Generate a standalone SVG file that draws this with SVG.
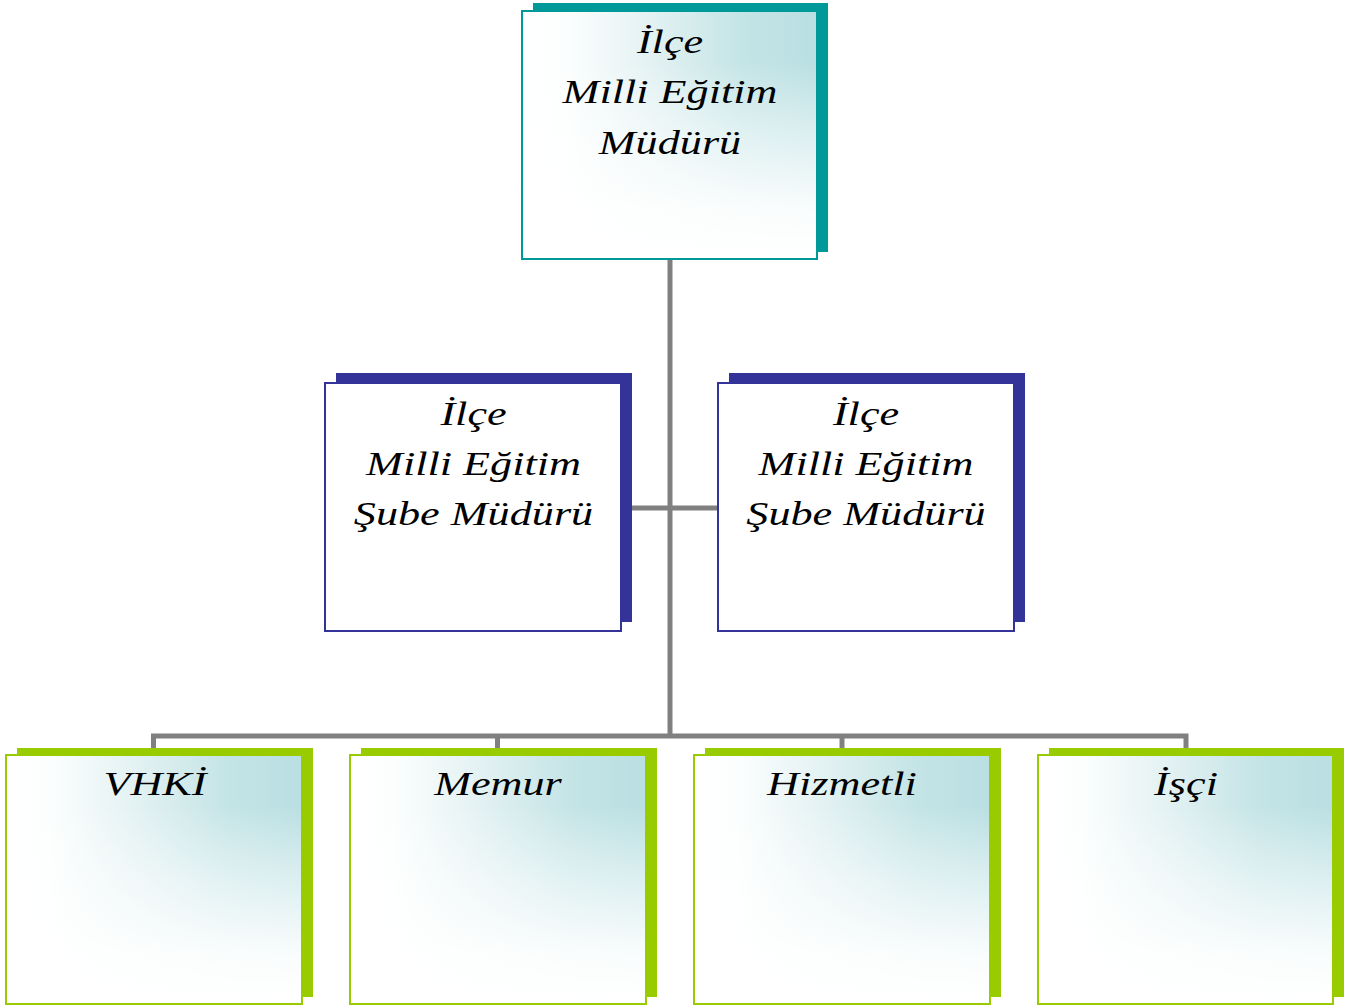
<svg xmlns="http://www.w3.org/2000/svg" width="1357" height="1008" viewBox="0 0 1357 1008">
<defs>
<linearGradient id="hg" x1="0" y1="0" x2="1" y2="0">
<stop offset="0" stop-color="#ffffff"/>
<stop offset="0.15" stop-color="#fcfefe"/>
<stop offset="0.45" stop-color="#e2f1f2"/>
<stop offset="0.75" stop-color="#c4e4e6"/>
<stop offset="1" stop-color="#b9dfe2"/>
</linearGradient>
<linearGradient id="vg" x1="0" y1="0" x2="0" y2="1">
<stop offset="0" stop-color="#ffffff" stop-opacity="0"/>
<stop offset="0.2" stop-color="#ffffff" stop-opacity="0"/>
<stop offset="0.5" stop-color="#ffffff" stop-opacity="0.5"/>
<stop offset="0.8" stop-color="#ffffff" stop-opacity="0.92"/>
<stop offset="1" stop-color="#ffffff" stop-opacity="1"/>
</linearGradient>
<style>
.conn{stroke:#808080;stroke-width:5;fill:none}
.t{font-family:"Liberation Serif","Times New Roman",serif;font-style:italic;font-size:34px;fill:#000;text-anchor:middle}
.hfill{fill:url(#hg)}
.vfill{fill:url(#vg)}
.sh-teal{fill:#009999}
.fr-teal{fill:none;stroke:#009999;stroke-width:2}
.sh-blue{fill:#333399}
.fr-blue{fill:#ffffff;stroke:#333399;stroke-width:2}
.sh-green{fill:#99cc00}
.fr-green{fill:none;stroke:#99cc00;stroke-width:2}
</style>
</defs>
<rect x="0" y="0" width="1357" height="1008" fill="#ffffff"/>
<g id="connectors">
<line class="conn" x1="670" y1="259" x2="670" y2="736"/>
<line class="conn" x1="621" y1="508" x2="719" y2="508"/>
<polyline class="conn" points="153.5,750 153.5,736 1186,736 1186,750"/>
<line class="conn" x1="497.5" y1="736" x2="497.5" y2="750"/>
<line class="conn" x1="842" y1="736" x2="842" y2="750"/>
</g>
<g id="node-mudur">
<rect class="sh-teal" x="533" y="3" width="295" height="249"/>
<rect class="hfill" x="522" y="11" width="295" height="248"/>
<rect class="vfill" x="522" y="11" width="295" height="248"/>
<rect class="fr-teal" x="522" y="11" width="295" height="248"/>
<text class="t" transform="translate(670,53) scale(1.3,1)">İlçe</text>
<text class="t" transform="translate(670,103) scale(1.3,1)">Milli Eğitim</text>
<text class="t" transform="translate(670,154) scale(1.3,1)">Müdürü</text>
</g>
<g id="node-sube-left">
<rect class="sh-blue" x="336" y="373" width="296" height="249"/>
<rect class="fr-blue" x="325" y="383" width="296" height="248"/>
<text class="t" transform="translate(473.5,425) scale(1.3,1)">İlçe</text>
<text class="t" transform="translate(473.5,475) scale(1.3,1)">Milli Eğitim</text>
<text class="t" transform="translate(473.5,525) scale(1.3,1)">Şube Müdürü</text>
</g>
<g id="node-sube-right">
<rect class="sh-blue" x="729" y="373" width="296" height="249"/>
<rect class="fr-blue" x="718" y="383" width="296" height="248"/>
<text class="t" transform="translate(866,425) scale(1.3,1)">İlçe</text>
<text class="t" transform="translate(866,475) scale(1.3,1)">Milli Eğitim</text>
<text class="t" transform="translate(866,525) scale(1.3,1)">Şube Müdürü</text>
</g>
<g id="node-vhki">
<rect class="sh-green" x="17" y="748" width="296" height="249"/>
<rect class="hfill" x="6" y="755" width="296" height="249"/>
<rect class="vfill" x="6" y="755" width="296" height="249"/>
<rect class="fr-green" x="6" y="755" width="296" height="249"/>
<text class="t" transform="translate(155,795) scale(1.3,1)">VHKİ</text>
</g>
<g id="node-memur">
<rect class="sh-green" x="361" y="748" width="296" height="249"/>
<rect class="hfill" x="350" y="755" width="296" height="249"/>
<rect class="vfill" x="350" y="755" width="296" height="249"/>
<rect class="fr-green" x="350" y="755" width="296" height="249"/>
<text class="t" transform="translate(498,795) scale(1.3,1)">Memur</text>
</g>
<g id="node-hizmetli">
<rect class="sh-green" x="705" y="748" width="296" height="249"/>
<rect class="hfill" x="694" y="755" width="296" height="249"/>
<rect class="vfill" x="694" y="755" width="296" height="249"/>
<rect class="fr-green" x="694" y="755" width="296" height="249"/>
<text class="t" transform="translate(842,795) scale(1.3,1)">Hizmetli</text>
</g>
<g id="node-isci">
<rect class="sh-green" x="1049" y="748" width="295" height="249"/>
<rect class="hfill" x="1038" y="755" width="295" height="249"/>
<rect class="vfill" x="1038" y="755" width="295" height="249"/>
<rect class="fr-green" x="1038" y="755" width="295" height="249"/>
<text class="t" transform="translate(1186,795) scale(1.3,1)">İşçi</text>
</g>
</svg>
